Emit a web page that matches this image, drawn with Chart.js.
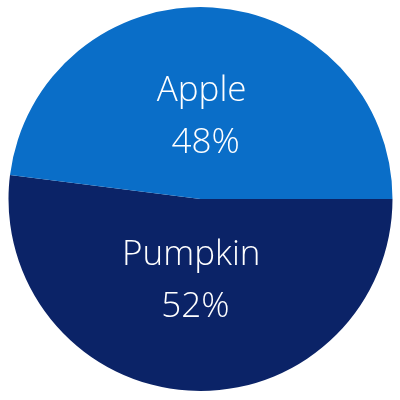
<!DOCTYPE html>
<html>
<head>
<meta charset="utf-8">
<script src="https://cdn.jsdelivr.net/npm/chart.js@4"></script>
<style>
    html, body { margin: 0; padding: 0; background: #fff; }
    #wrap { width: 400px; height: 400px; }
</style>
</head>
<body>
<div id="wrap"><canvas id="pieChart"></canvas></div>
<script>
// data, Pumpkin first so it sweeps clockwise from 3 o'clock
const labels = ['Pumpkin', 'Apple'];
const shares = [52, 48];
const colors = ['#0B2367', '#0A6EC8'];

// writes name + percent inside each slice
const sliceLabels = {
    id: 'sliceLabels',
    afterDatasetsDraw(chart) {
        const ctx = chart.ctx;
        const meta = chart.getDatasetMeta(0);
        ctx.save();
        ctx.fillStyle = '#fff';
        ctx.textAlign = 'center';
        ctx.textBaseline = 'middle';
        ctx.font = '300 35px "Open Sans"';
        meta.data.forEach((arc, i) => {
            const p = arc.getProps(['x', 'y', 'startAngle', 'endAngle', 'outerRadius'], true);
            const mid = (p.startAngle + p.endAngle) / 2;
            const r = p.outerRadius * 0.43;
            const cx = p.x + Math.cos(mid) * r - 4;
            const cy = p.y + Math.sin(mid) * r;
            ctx.fillText(labels[i], cx, cy - 26);
            ctx.fillText(shares[i] + '%', cx + 4, cy + 26);
        });
        ctx.restore();
    }
};

new Chart(document.getElementById('pieChart'), {
    type: 'pie',
    data: {
        labels: labels,
        datasets: [{
            data: shares,
            backgroundColor: colors,
            borderWidth: 0
        }]
    },
    options: {
        responsive: true,
        maintainAspectRatio: false,
        animation: false,
        rotation: 90,
        layout: { padding: { top: 7, bottom: 9, left: 8, right: 7 } },
        plugins: {
            legend: { display: false },
            tooltip: { enabled: false }
        }
    },
    plugins: [sliceLabels]
});
</script>
</body>
</html>
